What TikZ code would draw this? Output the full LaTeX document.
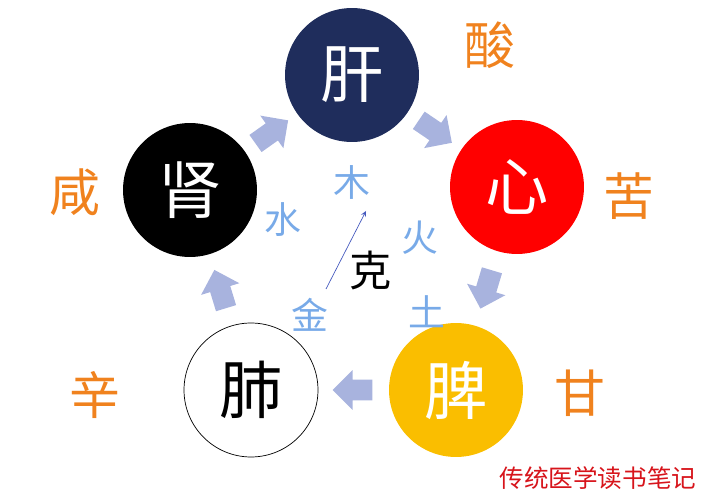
\documentclass[tikz,border=0pt]{standalone}
\usepackage{fontspec}
\setmainfont{Noto Sans CJK SC}
\usetikzlibrary{positioning,calc}
\tikzstyle{canvas} = [x = .02cm, y = -.02cm]
\definecolor{ganColor}{RGB}{31,45,92}
\definecolor{xinColor}{RGB}{255,0,0}
\definecolor{piColor}{RGB}{250,190,0}
\definecolor{arrowColor}{RGB}{168,179,222}
\definecolor{tasteColor}{RGB}{240,130,30}
\definecolor{elementColor}{RGB}{120,170,232}
\definecolor{keColor}{RGB}{70,90,190}
\definecolor{noteColor}{RGB}{215,20,27}
\tikzstyle{organ} = [circle, minimum size = 2.68cm, inner sep = 0pt, font = \fontsize{36}{36}\selectfont]
\tikzstyle{taste} = [color = tasteColor, font = \fontsize{29}{29}\selectfont]
\tikzstyle{element} = [color = elementColor, font = \fontsize{21}{21}\selectfont]
\tikzstyle{flowArrowStyle} = [fill = arrowColor]
\tikzstyle{keArrow} = [color = keColor, thin, -stealth]
\newcommand{\flowArrow}[2]{
  \path let \p1 = ($(#2)-(#1)$), \n1 = {atan2(\y1,\x1)} in \pgfextra{\xdef\arrowAngle{\n1}};
  \begin{scope}[shift = {($(#1)!.5!(#2)$)}, rotate = \arrowAngle]
    \fill [flowArrowStyle] (-.38cm,-.21cm) -- (.02cm,-.21cm) -- (.02cm,-.40cm) -- (.42cm,0cm)
      -- (.02cm,.40cm) -- (.02cm,.21cm) -- (-.38cm,.21cm) -- cycle;
  \end{scope}
}

\begin{document}
\begin{tikzpicture}[canvas]
            \useasboundingbox (0,0) rectangle (725,500);
            % five organs
            \node [organ, fill = ganColor, text = white] (gan) at (352,75) {肝};
            \node [organ, fill = xinColor, text = white] (xin) at (517,187) {心};
            \node [organ, fill = piColor, text = white] (pi) at (456,390) {脾};
            \node [organ, draw = black, fill = white] (fei) at (251,390) {肺};
            \node [organ, fill = black, text = white] (shen) at (190,190) {肾};

            % generating cycle
            \flowArrow{shen}{gan}
            \flowArrow{gan}{xin}
            \flowArrow{xin}{pi}
            \flowArrow{pi}{fei}
            \flowArrow{fei}{shen}

            % tastes
            \node [taste] (suan) at (490,45) {酸};
            \node [taste] (ku) at (629,196) {苦};
            \node [taste] (gan2) at (580,393) {甘};
            \node [taste] (xinTaste) at (95,395) {辛};
            \node [taste] (xian) at (75,192) {咸};

            % elements
            \node [element] (mu) at (352,182) {木};
            \node [element] (shui) at (283,220) {水};
            \node [element] (huo) at (420,238) {火};
            \node [element] (jin) at (310,315) {金};
            \node [element] (tu) at (427,312) {土};
            \node [font = \fontsize{24}{24}\selectfont] (ke) at (371,270) {克};
            \coordinate (keStart) at (326,289);
            \coordinate (keEnd) at (366,211);
            \draw [keArrow] (keStart) -- (keEnd);

            \node [color = noteColor, font = \fontsize{14}{14}\selectfont] (note) at (598,478) {传统医学读书笔记};
          \end{tikzpicture}
\end{document}
